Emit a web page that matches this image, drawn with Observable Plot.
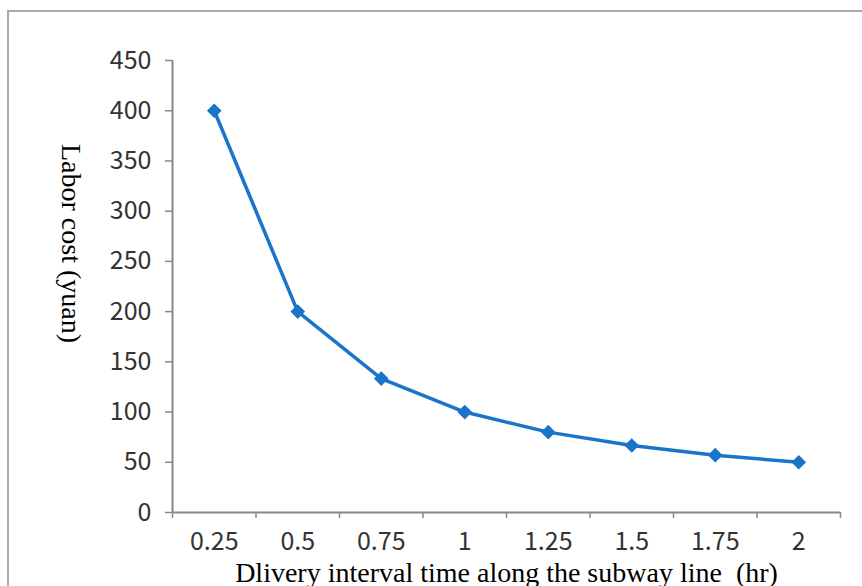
<!DOCTYPE html>
<html>
<head>
<meta charset="utf-8">
<script src="https://cdn.jsdelivr.net/npm/d3@7"></script>
<script src="https://cdn.jsdelivr.net/npm/@observablehq/plot@0.6"></script>
<style>
  html, body { margin: 0; padding: 0; background: #fff; overflow: hidden; }
  #wrap { position: relative; width: 862px; height: 586px; overflow: hidden; }
  #frame { position: absolute; left: 7px; top: 10px; width: 900px; height: 640px; border: 2px solid #a9a9a9; box-sizing: border-box; }
  #chart { position: absolute; left: 0; top: 0; }
</style>
</head>
<body>
<div id="wrap"><div id="frame"></div><div id="chart"></div></div>
<script>
const intervals = ["0.25", "0.5", "0.75", "1", "1.25", "1.5", "1.75", "2"];
const laborCost = [400, 200, 133.3, 100, 80, 66.7, 57.1, 50];
const yTicks = [0, 50, 100, 150, 200, 250, 300, 350, 400, 450];
const xTitle = "Dlivery interval time along the subway line  (hr)";
const yTitle = "Labor cost (yuan)";

const data = intervals.map((t, i) => ({pos: i + 0.5, label: t, cost: laborCost[i]}));
const boundaries = d3.range(0, intervals.length + 1);
const axisColor = "#898989";
const lineColor = "#1a74c9";
const sans = "'Noto Sans CJK SC', 'Noto Sans', sans-serif";
const serif = "'Liberation Serif', 'DejaVu Serif', serif";

const chart = Plot.plot({
  width: 862,
  height: 586,
  marginLeft: 172,
  marginRight: 22,
  marginTop: 60,
  marginBottom: 74,
  style: {fontFamily: sans, background: "transparent", overflow: "visible"},
  x: {domain: [0, intervals.length]},
  y: {domain: [0, 450]},
  marks: [
    Plot.axisY({ticks: yTicks, tickSize: 7, tickPadding: 14, fontSize: 25, stroke: axisColor, strokeWidth: 1.5, fill: "#333", label: null}),
    Plot.axisX({ticks: boundaries, tickSize: 6, tickFormat: () => "", stroke: axisColor, strokeWidth: 1.5, label: null}),
    Plot.axisX(data.map(d => d.pos), {tickSize: 0, tickPadding: 20, tickFormat: (v) => intervals[Math.round(v - 0.5)], fontSize: 25, fill: "#333", label: null}),
    Plot.ruleX([0], {stroke: axisColor, strokeWidth: 2}),
    Plot.ruleY([0], {stroke: axisColor, strokeWidth: 2}),
    Plot.line(data, {x: "pos", y: "cost", stroke: lineColor, strokeWidth: 3.5}),
    Plot.dot(data, {x: "pos", y: "cost", symbol: "diamond2", r: 6.6, fill: lineColor, stroke: null}),
    Plot.text([yTitle], {frameAnchor: "left", textAnchor: "middle", lineAnchor: "middle", rotate: 90, dx: -102, dy: -43, fontSize: 28, fontFamily: serif, fill: "#000"}),
    Plot.text([xTitle], {frameAnchor: "bottom", textAnchor: "middle", lineAnchor: "middle", dy: 61, fontSize: 28, fontFamily: serif, fill: "#000"})
  ]
});
document.getElementById("chart").appendChild(chart);
</script>
</body>
</html>
